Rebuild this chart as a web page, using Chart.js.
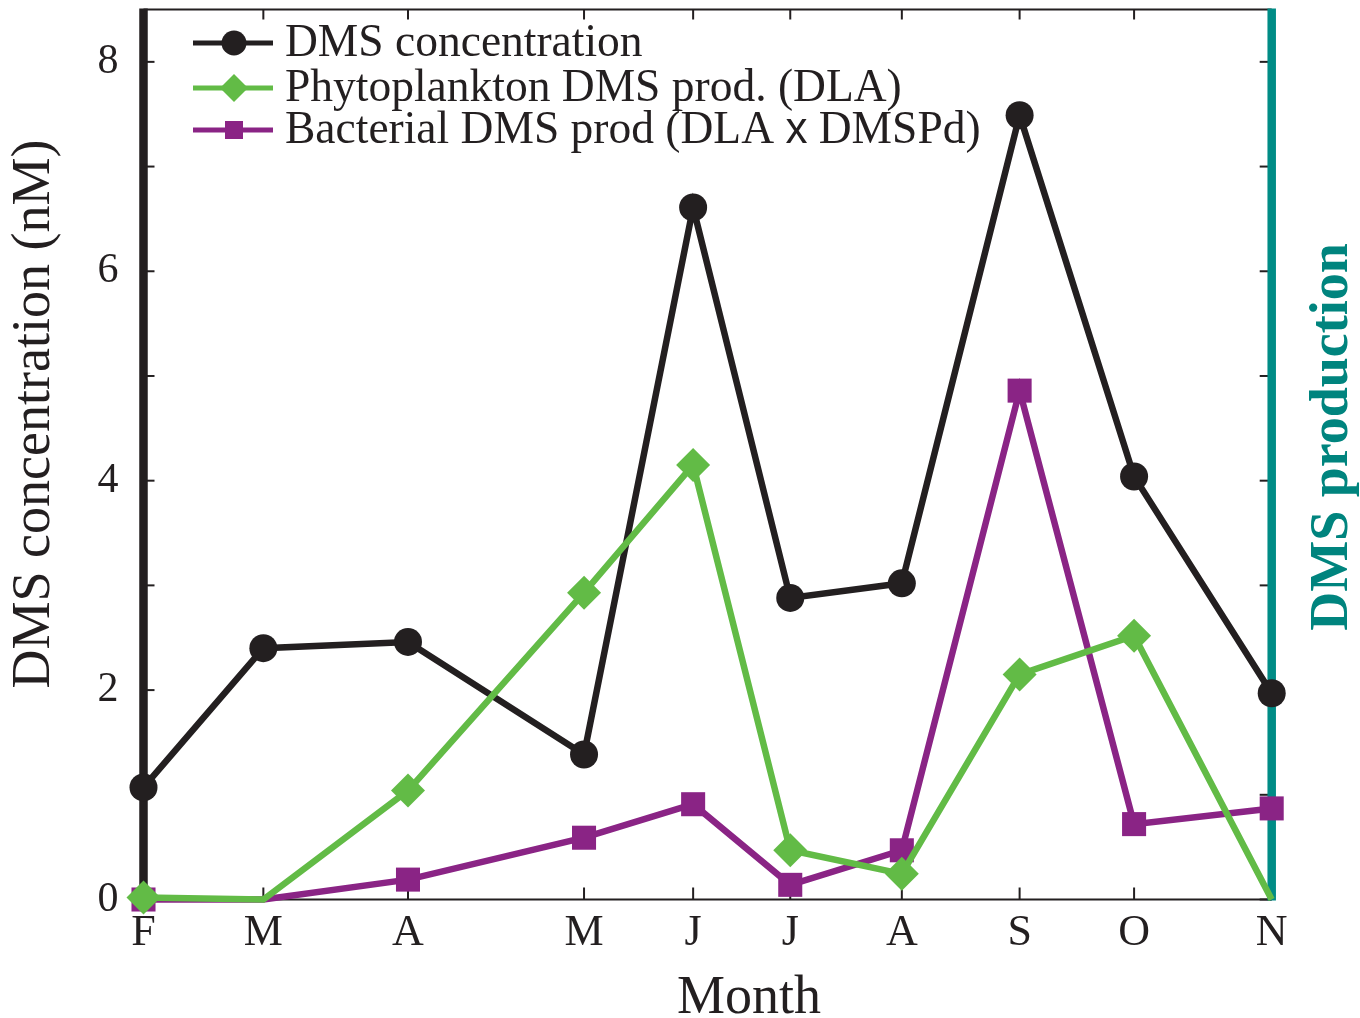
<!DOCTYPE html>
<html>
<head>
<meta charset="utf-8">
<script src="https://cdn.jsdelivr.net/npm/chart.js@4.4.1/dist/chart.umd.min.js"></script>
<style>
  html, body { margin: 0; padding: 0; background: #ffffff; overflow: hidden; }
  canvas { display: block; }
</style>
</head>
<body>
<canvas id="chart" width="1360" height="1018"></canvas>
<script>
// Sampling days, counted from 1 February
const sampleDays = [0, 29, 64, 106.6, 133, 156.5, 183.5, 212, 239.7, 273];
const monthLabels = ['F', 'M', 'A', 'M', 'J', 'J', 'A', 'S', 'O', 'N'];

// DMS concentration (nM) and production estimates
const dmsConcentration    = [1.07, 2.40, 2.46, 1.385, 6.61, 2.88, 3.02, 7.49, 4.04, 1.97];
const phytoProduction     = [0.02, 0.00, 1.04, 2.93, 4.15, 0.47, 0.245, 2.15, 2.52, 0.00];
const bacterialProduction = [0.00, 0.00, 0.19, 0.59, 0.91, 0.14, 0.47, 4.86, 0.72, 0.87];

const seriesNames = ['DMS concentration', 'Phytoplankton DMS prod. (DLA)', 'Bacterial DMS prod (DLA x DMSPd)'];

// Left axis: a tick at every unit, labels on even values
const yTickValues = [0, 1, 2, 3, 4, 5, 6, 7, 8];
const yTickLabels = ['0', '', '2', '', '4', '', '6', '', '8'];

const xTitle = 'Month';
const yTitle = 'DMS concentration (nM)';
const y2Title = 'DMS production';

const ink = '#231F20';
const green = '#62BB46';
const purple = '#8A2485';
const teal = '#008C86';
const tealText = '#00847E';
const serif = "'Liberation Serif', 'Times New Roman', serif";

// Markers hidden where the production curves sit on the axes
const phytoMarkerSize = [17, 0, 17, 17, 17, 17, 17, 17, 17, 0];
const bactMarkerSize  = [17, 0, 17, 17, 17, 17, 17, 17, 17, 17];

Chart.defaults.font.family = serif;
Chart.defaults.color = ink;

const toPoints = vals => sampleDays.map((d, i) => ({ x: d, y: vals[i] }));

function strokeLine(ctx, x1, y1, x2, y2) {
  ctx.beginPath();
  ctx.moveTo(x1, y1);
  ctx.lineTo(x2, y2);
  ctx.stroke();
}

// Box frame: thin top/bottom spines, inward ticks, thick black left and teal right spines
const framePlugin = {
  id: 'frame',
  beforeDatasetsDraw(chart) {
    const { ctx, chartArea: a, scales: { x, y } } = chart;
    ctx.save();
    ctx.strokeStyle = ink;
    ctx.lineCap = 'butt';
    ctx.lineWidth = 2;
    strokeLine(ctx, a.left, a.top, a.right, a.top);
    strokeLine(ctx, a.left, a.bottom, a.right, a.bottom);
    x.ticks.forEach(t => {
      const px = x.getPixelForValue(t.value);
      strokeLine(ctx, px, a.bottom, px, a.bottom - 12);
      strokeLine(ctx, px, a.top, px, a.top + 10);
    });
    y.ticks.forEach(t => {
      const py = y.getPixelForValue(t.value);
      strokeLine(ctx, a.left, py, a.left + 11, py);
      strokeLine(ctx, a.right, py, a.right - 12, py);
    });
    ctx.lineWidth = 8.5;
    strokeLine(ctx, a.left, a.top - 1, a.left, a.bottom + 1);
    ctx.strokeStyle = teal;
    strokeLine(ctx, a.right, a.top - 1, a.right, a.bottom + 1);
    ctx.restore();
  }
};

// Axis titles (both vertical titles read bottom to top)
const titlePlugin = {
  id: 'axisTitles',
  afterDraw(chart) {
    const { ctx } = chart;
    ctx.save();
    ctx.fillStyle = ink;
    ctx.textAlign = 'center';
    ctx.textBaseline = 'alphabetic';
    ctx.font = '54px ' + serif;
    ctx.fillText(xTitle, 749, 1013);
    ctx.save();
    ctx.translate(49, 414);
    ctx.rotate(-Math.PI / 2);
    ctx.fillText(yTitle, 0, 0);
    ctx.restore();
    ctx.fillStyle = tealText;
    ctx.font = 'bold 54px ' + serif;
    ctx.translate(1347, 437);
    ctx.rotate(-Math.PI / 2);
    ctx.fillText(y2Title, 0, 0);
    ctx.restore();
  }
};

// Legend inside the plot, upper left: line sample with marker, then the label
const legendPlugin = {
  id: 'insetLegend',
  afterDatasetsDraw(chart) {
    const { ctx } = chart;
    const rows = [43, 88, 130];
    const markers = ['circle', 'diamond', 'square'];
    ctx.save();
    chart.data.datasets.forEach((ds, i) => {
      const yy = rows[i];
      ctx.strokeStyle = ds.borderColor;
      ctx.fillStyle = ds.borderColor;
      ctx.lineWidth = 5;
      strokeLine(ctx, 193, yy, 273, yy);
      const cx = 234;
      ctx.beginPath();
      if (markers[i] === 'circle') {
        ctx.arc(cx, yy, 12.5, 0, Math.PI * 2);
      } else if (markers[i] === 'diamond') {
        ctx.moveTo(cx, yy - 14); ctx.lineTo(cx + 14, yy);
        ctx.lineTo(cx, yy + 14); ctx.lineTo(cx - 14, yy);
        ctx.closePath();
      } else {
        ctx.rect(cx - 9, yy - 9, 18, 18);
      }
      ctx.fill();

      ctx.fillStyle = ink;
      ctx.textAlign = 'left';
      ctx.textBaseline = 'alphabetic';
      const textFont = '45.5px ' + serif;
      ctx.font = textFont;
      const base = yy + 13;
      const label = ds.label;
      const xi = label.indexOf(' x ');
      if (xi >= 0) {
        // the multiplication sign is set in a sans face
        const a = label.slice(0, xi + 1);
        const b = 'x';
        const c = label.slice(xi + 2);
        let px = 285;
        ctx.fillText(a, px, base); px += ctx.measureText(a).width;
        ctx.font = "44px 'Liberation Sans', Arial, sans-serif";
        ctx.fillText(b, px, base); px += ctx.measureText(b).width;
        ctx.font = textFont;
        ctx.fillText(c, px, base);
      } else {
        ctx.fillText(label, 285, base);
      }
    });
    ctx.restore();
  }
};

new Chart(document.getElementById('chart'), {
  type: 'line',
  data: {
    datasets: [
      {
        label: seriesNames[0],
        data: toPoints(dmsConcentration),
        borderColor: ink, backgroundColor: ink,
        borderWidth: 6.5, pointStyle: 'circle', pointRadius: 14,
        pointBorderWidth: 0, pointBackgroundColor: ink,
        tension: 0, clip: false, order: 2
      },
      {
        label: seriesNames[1],
        data: toPoints(phytoProduction),
        borderColor: green, backgroundColor: green,
        borderWidth: 6.5, pointStyle: 'rectRot', pointRadius: phytoMarkerSize,
        pointBorderWidth: 0, pointBackgroundColor: green,
        tension: 0, clip: false, order: 0
      },
      {
        label: seriesNames[2],
        data: toPoints(bacterialProduction),
        borderColor: purple, backgroundColor: purple,
        borderWidth: 6.5, pointStyle: 'rect', pointRadius: bactMarkerSize,
        pointBorderWidth: 0, pointBackgroundColor: purple,
        tension: 0, clip: false, order: 1
      }
    ]
  },
  options: {
    responsive: false,
    animation: false,
    devicePixelRatio: 1,
    events: [],
    layout: { autoPadding: false, padding: { top: 9.5, right: 88.3, left: 0, bottom: 0 } },
    plugins: { legend: { display: false }, tooltip: { enabled: false } },
    scales: {
      x: {
        type: 'linear', position: 'bottom', min: 0, max: 273,
        grid: { display: false }, border: { display: false },
        afterBuildTicks: s => { s.ticks = sampleDays.map(v => ({ value: v })); },
        ticks: {
          autoSkip: false, maxRotation: 0, minRotation: 0, padding: 0,
          color: ink, font: { size: 44 },
          callback: (v, i) => monthLabels[i]
        },
        afterFit: s => { s.height = 118.5; s.paddingLeft = 0; s.paddingRight = 0; }
      },
      y: {
        type: 'linear', position: 'left', min: 0, max: 8.5,
        grid: { display: false }, border: { display: false },
        afterBuildTicks: s => { s.ticks = yTickValues.map(v => ({ value: v })); },
        ticks: {
          autoSkip: false, padding: 17, color: ink, font: { size: 42 },
          callback: (v, i) => yTickLabels[i]
        },
        afterFit: s => { s.width = 143.5; s.paddingTop = 0; s.paddingBottom = 0; }
      }
    }
  },
  plugins: [framePlugin, titlePlugin, legendPlugin]
});
</script>
</body>
</html>
